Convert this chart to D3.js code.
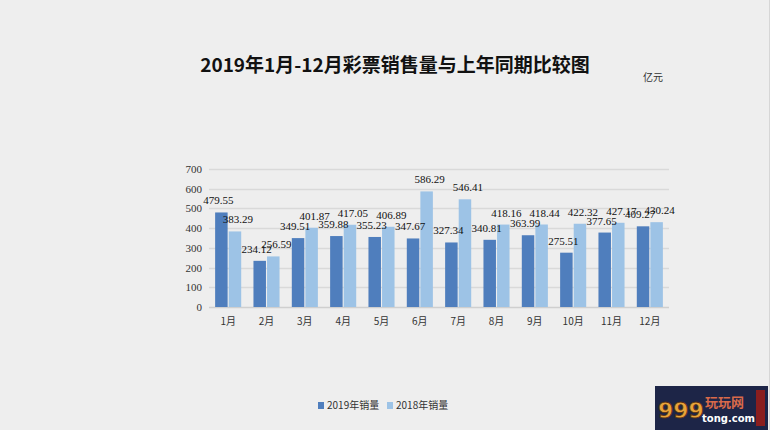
<!DOCTYPE html>
<html>
<head>
<meta charset="utf-8">
<script src="https://cdn.jsdelivr.net/npm/d3@7"></script>
<style>
  html, body { margin: 0; padding: 0; background: #eeeeee; }
  svg { display: block; }
</style>
</head>
<body>
<div id="chart"></div>
<script>
    // data
    var months = ['1月', '2月', '3月', '4月', '5月', '6月', '7月', '8月', '9月', '10月', '11月', '12月'];
    var sales2019 = [479.55, 234.12, 349.51, 359.88, 355.23, 347.67, 327.34, 340.81, 363.99, 275.51, 377.65, 409.27];
    var sales2018 = [383.29, 256.59, 401.87, 417.05, 406.89, 586.29, 546.41, 418.16, 418.44, 422.32, 427.17, 430.24];
    var yTicks = [0, 100, 200, 300, 400, 500, 600, 700];
    var seriesNames = ['2019年销量', '2018年销量'];

(function () {
    'use strict';

    var w = 770,
        h = 430,
        plotLeft = 209, plotRight = 669,   // plot area
        plotTop = 169, plotBottom = 307,
        colors = ['#4f7ebd', '#9dc3e6'],
        cjk = '"Noto Sans CJK SC", sans-serif';

    var svg = d3.select('#chart')
        .append('svg')
        .attr('width', w)
        .attr('height', h);

    svg.append('rect')
        .attr('width', w).attr('height', h)
        .attr('fill', '#eeeeee');
    svg.append('line')
        .attr('x1', w - 0.5).attr('x2', w - 0.5)
        .attr('y1', 0).attr('y2', h)
        .attr('stroke', '#d6d6d6');

    var x = d3.scaleBand()
        .domain(months)
        .range([plotLeft, plotRight])
        .paddingInner(0.32)
        .paddingOuter(0.16);

    var xSub = d3.scaleBand()
        .domain([0, 1])
        .range([0, x.bandwidth()])
        .paddingInner(0.08);

    var y = d3.scaleLinear()
        .domain([0, 700])
        .range([plotBottom, plotTop]);

    // title
    svg.append('text')
        .attr('x', 395).attr('y', 72)
        .attr('text-anchor', 'middle')
        .attr('font-family', cjk)
        .attr('font-weight', 'bold')
        .attr('font-size', 19)
        .attr('fill', '#111')
        .text('2019年1月-12月彩票销售量与上年同期比较图');

    svg.append('text')
        .attr('x', 653).attr('y', 81)
        .attr('text-anchor', 'middle')
        .attr('font-family', cjk)
        .attr('font-size', 10)
        .attr('fill', '#333')
        .text('亿元');

    // gridlines
    svg.append('g')
        .selectAll('line')
        .data(yTicks)
        .enter().append('line')
        .attr('x1', plotLeft).attr('x2', plotRight)
        .attr('y1', function (d) { return Math.round(y(d)) + 0.5; })
        .attr('y2', function (d) { return Math.round(y(d)) + 0.5; })
        .attr('stroke', function (d) { return d === 0 ? '#cfcfcf' : '#d9d9d9'; })
        .attr('stroke-width', 1.5);

    // y axis labels
    var yAxis = d3.axisLeft(y).tickValues(yTicks).tickSize(0).tickPadding(0);
    var yg = svg.append('g')
        .attr('transform', 'translate(202,0)')
        .call(yAxis);
    yg.select('.domain').remove();
    yg.selectAll('text')
        .attr('font-family', '"Liberation Serif", serif')
        .attr('font-size', 11)
        .attr('fill', '#333');

    // x axis labels
    var xAxis = d3.axisBottom(x).tickSize(0).tickPadding(0);
    var xg = svg.append('g')
        .attr('transform', 'translate(0,318)')
        .call(xAxis);
    xg.select('.domain').remove();
    xg.selectAll('text')
        .attr('font-family', cjk)
        .attr('font-size', 10)
        .attr('fill', '#333');

    // bars
    var rows = months.map(function (m, i) {
        return { month: m, values: [sales2019[i], sales2018[i]] };
    });

    var groups = svg.append('g')
        .selectAll('g')
        .data(rows)
        .enter().append('g')
        .attr('transform', function (d) { return 'translate(' + x(d.month) + ',0)'; });

    groups.selectAll('rect')
        .data(function (d) { return d.values; })
        .enter().append('rect')
        .attr('x', function (d, i) { return xSub(i); })
        .attr('y', function (d) { return y(d); })
        .attr('width', xSub.bandwidth())
        .attr('height', function (d) { return plotBottom - y(d); })
        .attr('fill', function (d, i) { return colors[i]; });

    // data labels (they crowd each other in the original too),
    // nudged apart a little: 2019 to the left, 2018 to the right
    groups.selectAll('text')
        .data(function (d) { return d.values; })
        .enter().append('text')
        .attr('x', function (d, i) { return xSub(i) + xSub.bandwidth() / 2 + (i === 0 ? -3 : 3); })
        .attr('y', function (d) { return y(d) - 8; })
        .attr('text-anchor', 'middle')
        .attr('font-family', '"Liberation Serif", serif')
        .attr('font-size', 11)
        .attr('fill', '#111')
        .text(function (d) { return d.toFixed(2); });

    // legend
    var legend = svg.append('g')
        .attr('transform', 'translate(318,402)');
    var items = legend.selectAll('g')
        .data(seriesNames)
        .enter().append('g')
        .attr('transform', function (d, i) { return 'translate(' + (i * 69) + ',0)'; });
    items.append('rect')
        .attr('width', 6).attr('height', 7)
        .attr('fill', function (d, i) { return colors[i]; });
    items.append('text')
        .attr('x', 9).attr('y', 7)
        .attr('font-family', cjk)
        .attr('font-size', 10)
        .attr('fill', '#333')
        .text(function (d) { return d; });

    // watermark logo, bottom right
    var logo = svg.append('g').attr('transform', 'translate(655,386)');
    logo.append('rect')
        .attr('width', 113).attr('height', 44)
        .attr('fill', '#1d2547');
    logo.append('text')
        .attr('x', 3).attr('y', 32)
        .attr('font-family', '"DejaVu Sans", sans-serif')
        .attr('font-weight', 'bold')
        .attr('font-size', 22)
        .attr('fill', '#e8a33a')
        .attr('stroke', '#5a3010').attr('stroke-width', 0.8)
        .text('999');
    logo.append('text')
        .attr('x', 50).attr('y', 21)
        .attr('font-family', cjk)
        .attr('font-weight', 'bold')
        .attr('font-size', 13)
        .attr('fill', '#d96a4a')
        .text('玩玩网');
    logo.append('text')
        .attr('x', 47).attr('y', 36)
        .attr('font-family', '"DejaVu Sans", sans-serif')
        .attr('font-weight', 'bold')
        .attr('font-size', 10)
        .attr('fill', '#ffffff')
        .text('tong.com');
    logo.append('rect')
        .attr('x', 101).attr('y', 4)
        .attr('width', 9).attr('height', 36)
        .attr('fill', '#8a1e1e');
})();
</script>
</body>
</html>
